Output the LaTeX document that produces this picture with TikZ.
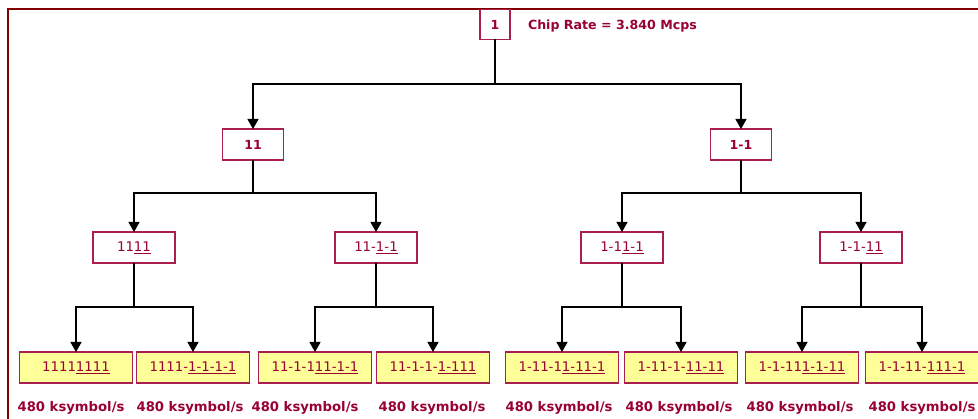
\documentclass[tikz,border=0pt]{standalone}
\usepackage{fontspec}
\setmainfont{DejaVu Sans}
\usetikzlibrary{arrows.meta}
\definecolor{txtc}{RGB}{153,0,51}
\definecolor{boxc}{RGB}{170,30,80}
\definecolor{framec}{RGB}{128,0,0}
\definecolor{fillc}{RGB}{255,255,153}
\newcommand\uln[1]{\underline{#1}}
\begin{document}
\begin{tikzpicture}[x=1pt,y=-1pt,
  every node/.style={inner sep=0pt, outer sep=0pt, text=txtc, font=\fontsize{13.3}{15}\selectfont},
  codebox/.style={draw=boxc, line width=1.3pt, minimum height=31pt, anchor=center},
  rootbox/.style={codebox, minimum width=30pt, minimum height=30pt, font=\fontsize{12.5}{14}\selectfont\bfseries},
  lvtwo/.style={codebox, minimum width=61pt, font=\fontsize{12.5}{14}\selectfont\bfseries},
  lvthree/.style={codebox, minimum width=82pt},
  lvfour/.style={codebox, fill=fillc, minimum width=113pt},
  rate/.style={font=\fontsize{13.2}{15}\selectfont\bfseries},
  chiprate/.style={font=\fontsize{12.6}{15}\selectfont\bfseries},
  link/.style={draw=black, line width=1.3pt},
  arr/.style={link, -{Triangle[width=11pt,length=10pt]}}
]
\useasboundingbox (0,0) rectangle (978,419);
\draw[framec, line width=1.3pt] (8,419) -- (8,9) -- (978,9);

% root
\node[rootbox] (root) at (495,24.5) {1};
\node[chiprate, anchor=west] (chip) at (528,26) {Chip Rate = 3.840 Mcps};

% level 2
\node[lvtwo] (a) at (253,144.5) {11};
\node[lvtwo] (b) at (741,144.5) {1-1};

% level 3
\node[lvthree] (aa) at (134,247.5) {11\uln{11}};
\node[lvthree] (ab) at (376,247.5) {11-\uln{1-1}};
\node[lvthree] (ba) at (622,247.5) {1-1\uln{1-1}};
\node[lvthree] (bb) at (861,247.5) {1-1-\uln{11}};

% level 4
\node[lvfour] (aaa) at (76,367.5) {1111\uln{1111}};
\node[lvfour] (aab) at (193,367.5) {1111-\uln{1-1-1-1}};
\node[lvfour] (aba) at (315,367.5) {11-1-1\uln{11-1-1}};
\node[lvfour] (abb) at (433,367.5) {11-1-1-\uln{1-111}};
\node[lvfour] (baa) at (562,367.5) {1-11-1\uln{1-11-1}};
\node[lvfour] (bab) at (681,367.5) {1-11-1-\uln{11-11}};
\node[lvfour] (bba) at (802,367.5) {1-1-11\uln{1-1-11}};
\node[lvfour] (bbb) at (922,367.5) {1-1-11-\uln{111-1}};

% rate labels
\node[rate] (raaa) at (71,408) {480 ksymbol/s};
\node[rate] (raab) at (190,408) {480 ksymbol/s};
\node[rate] (raba) at (305,408) {480 ksymbol/s};
\node[rate] (rabb) at (432,408) {480 ksymbol/s};
\node[rate] (rbaa) at (559,408) {480 ksymbol/s};
\node[rate] (rbab) at (679,408) {480 ksymbol/s};
\node[rate] (rbba) at (800,408) {480 ksymbol/s};
\node[rate] (rbbb) at (922,408) {480 ksymbol/s};

% junctions
\coordinate (j0) at (495,84);
\coordinate (ja) at (253,193);
\coordinate (jb) at (741,193);
\coordinate (jaa) at (134,307);
\coordinate (jab) at (376,307);
\coordinate (jba) at (622,307);
\coordinate (jbb) at (861,307);

% connectors
\draw[link] (root.south) -- (j0);
\draw[arr] (j0) -| (a.north);
\draw[arr] (j0) -| (b.north);

\draw[link] (a.south) -- (ja);
\draw[arr] (ja) -| (aa.north);
\draw[arr] (ja) -| (ab.north);
\draw[link] (b.south) -- (jb);
\draw[arr] (jb) -| (ba.north);
\draw[arr] (jb) -| (bb.north);

\draw[link] (aa.south) -- (jaa);
\draw[arr] (jaa) -| (aaa.north);
\draw[arr] (jaa) -| (aab.north);
\draw[link] (ab.south) -- (jab);
\draw[arr] (jab) -| (aba.north);
\draw[arr] (jab) -| (abb.north);
\draw[link] (ba.south) -- (jba);
\draw[arr] (jba) -| (baa.north);
\draw[arr] (jba) -| (bab.north);
\draw[link] (bb.south) -- (jbb);
\draw[arr] (jbb) -| (bba.north);
\draw[arr] (jbb) -| (bbb.north);
\end{tikzpicture}
\end{document}
